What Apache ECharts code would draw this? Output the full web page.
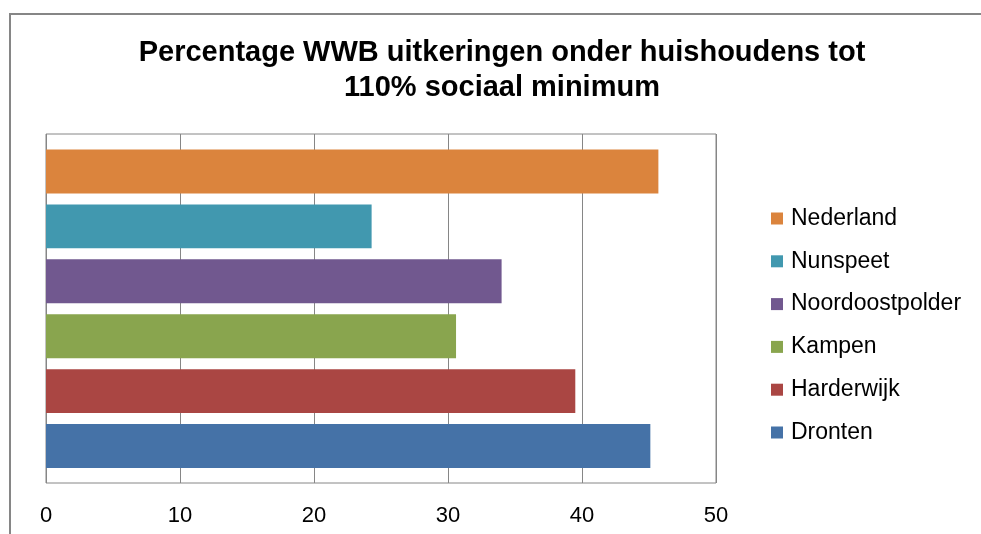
<!DOCTYPE html>
<html>
<head>
<meta charset="utf-8">
<script src="https://cdn.jsdelivr.net/npm/echarts@6/dist/echarts.min.js"></script>
<style>html,body{margin:0;padding:0;background:#fff}#c{width:981px;height:534px}</style>
</head>
<body>
<div id="c"></div>
<script>
// Categories bottom-to-top on the y axis
const categories = ['Dronten', 'Harderwijk', 'Kampen', 'Noordoostpolder', 'Nunspeet', 'Nederland'];
// Series listed in legend order (top to bottom)
const seriesNames = ['Nederland', 'Nunspeet', 'Noordoostpolder', 'Kampen', 'Harderwijk', 'Dronten'];
const seriesValues = [45.7, 24.3, 34.0, 30.6, 39.5, 45.1];
const seriesColors = ['#DB843D', '#4198AF', '#71588F', '#89A54E', '#AA4643', '#4572A7'];
const xTicks = [0, 10, 20, 30, 40, 50];

const FONT = 'Liberation Sans, Arial, sans-serif';
const chart = echarts.init(document.getElementById('c'), null, {renderer: 'canvas'});
const series = seriesNames.map((name, i) => {
  const data = categories.map(c => (c === name ? seriesValues[i] : '-'));
  return {
    name: name,
    type: 'bar',
    stack: 'all',
    xAxisIndex: 1,
    yAxisIndex: 1,
    data: data,
    barCategoryGap: '20%',
    itemStyle: {color: seriesColors[i]},
    emphasis: {disabled: true}
  };
});

chart.setOption({
  animation: false,
  textStyle: {fontFamily: FONT},
  title: {
    text: 'Percentage WWB uitkeringen onder huishoudens tot\n110% sociaal minimum',
    left: 502,
    textAlign: 'center',
    top: 35,
    padding: 0,
    textStyle: {fontSize: 29, fontWeight: 'bold', color: '#000', lineHeight: 35, fontFamily: FONT}
  },
  graphic: [{
    type: 'rect',
    shape: {x: 10, y: 14, width: 1000, height: 600},
    style: {fill: 'none', stroke: '#868686', lineWidth: 2},
    silent: true, z: -1
  }],
  legend: {
    orient: 'vertical',
    left: 771,
    top: 207,
    padding: 0,
    itemWidth: 12,
    itemHeight: 12,
    itemGap: 19.8,
    icon: 'rect',
    textStyle: {fontSize: 23, color: '#000', padding: [0, 0, 0, 3], fontFamily: FONT},
    data: seriesNames
  },
  grid: [
    {
      left: 46, right: 265, top: 134, bottom: 51,
      show: true, borderColor: '#868686', borderWidth: 1,
      containLabel: false
    },
    {
      left: 46, right: 265, top: 144, bottom: 60.5,
      show: false, containLabel: false
    }
  ],
  xAxis: [
    {
      type: 'value',
      gridIndex: 0,
      min: xTicks[0],
      max: xTicks[xTicks.length - 1],
      interval: 10,
      axisLine: {show: false},
      axisTick: {show: false},
      splitLine: {show: true, lineStyle: {color: '#868686', width: 1}},
      axisLabel: {fontSize: 22, color: '#000', margin: 22, fontFamily: FONT}
    },
    {
      type: 'value',
      gridIndex: 1,
      min: xTicks[0],
      max: xTicks[xTicks.length - 1],
      interval: 10,
      show: false,
      splitLine: {show: false}
    }
  ],
  yAxis: [
    {
      type: 'value',
      gridIndex: 0,
      show: false,
      splitLine: {show: false}
    },
    {
      type: 'category',
      gridIndex: 1,
      data: categories,
      axisLine: {show: false},
      axisTick: {show: false},
      axisLabel: {show: false},
      splitLine: {show: false}
    }
  ],
  series: series
});
</script>
</body>
</html>
